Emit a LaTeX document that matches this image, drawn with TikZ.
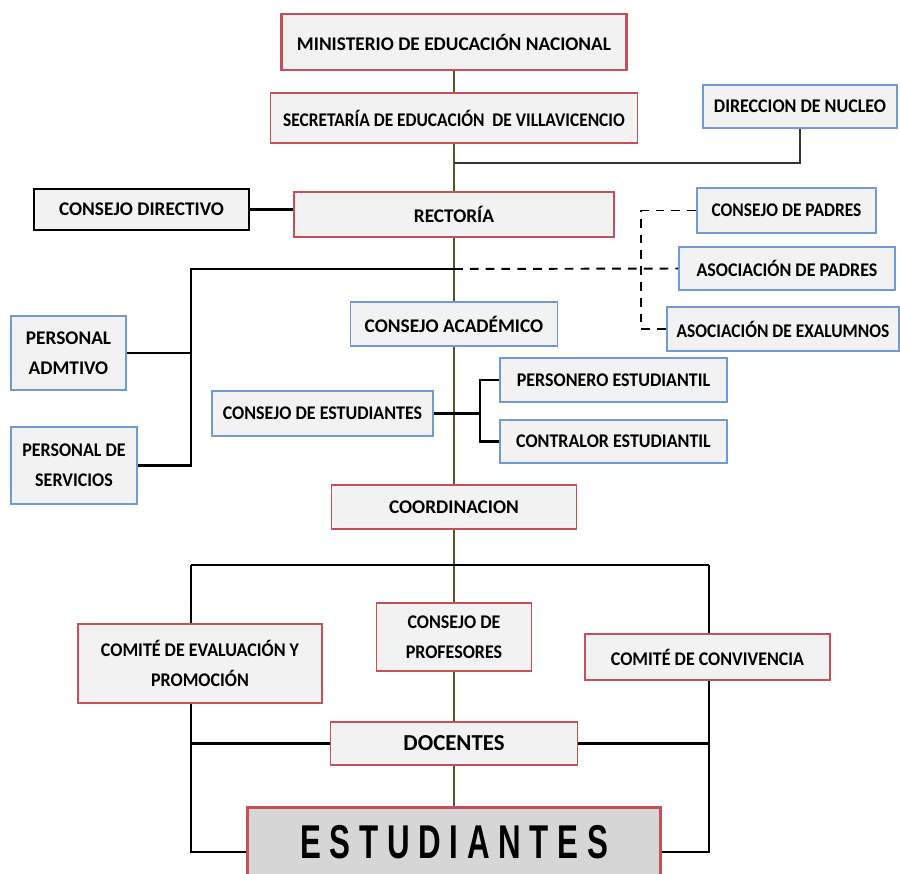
\documentclass[tikz,border=0pt]{standalone}
\usepackage{fontspec}
\setmainfont{Carlito}
\newfontfamily\condfont[FakeStretch=0.93]{Carlito}
\newfontfamily\narrowfont[FakeStretch=0.9]{Carlito}
\newfontfamily\estfont[FakeStretch=0.66]{Liberation Sans}
\usetikzlibrary{backgrounds}
\definecolor{boxred}{HTML}{C5505A}
\definecolor{boxblue}{HTML}{6F9AD2}
\definecolor{boxfill}{HTML}{F2F2F2}
\definecolor{estfill}{HTML}{D6D6D6}
\definecolor{trunkc}{HTML}{55552A}
\tikzset{
  box/.style={draw, fill=boxfill, line width=1.1pt, inner sep=0pt, align=center,
    font=\fontsize{11}{17}\selectfont\bfseries},
  redbox/.style={box, draw=boxred},
  bluebox/.style={box, draw=boxblue},
  blackbox/.style={box, draw=black, line width=1.6pt},
  cond/.style={font=\condfont\fontsize{11}{17}\selectfont\bfseries},
  narrow/.style={font=\narrowfont\fontsize{11}{17}\selectfont\bfseries},
  conn/.style={draw=black, line width=1.6pt},
  trunk/.style={draw=trunkc, line width=1.1pt},
  dashconn/.style={draw=black, line width=1.1pt, dash pattern=on 5pt off 4pt}
}
\begin{document}
\begin{tikzpicture}[x=0.02cm, y=-0.02cm]
\useasboundingbox (0,0) rectangle (900,873);
% main column
\node[redbox, line width=1.7pt, minimum width=345*0.02cm, minimum height=56*0.02cm] (min) at (454,42) {MINISTERIO DE EDUCACIÓN NACIONAL};
\node[redbox, narrow, minimum width=367*0.02cm, minimum height=50*0.02cm] (sec) at (454,118) {SECRETARÍA DE EDUCACIÓN \ DE VILLAVICENCIO};
\node[redbox, minimum width=320*0.02cm, minimum height=45*0.02cm] (rect) at (454,214.5) {RECTORÍA};
\node[bluebox, minimum width=207*0.02cm, minimum height=44*0.02cm] (acad) at (454,324) {CONSEJO ACADÉMICO};
\node[redbox, minimum width=245*0.02cm, minimum height=44*0.02cm] (coord) at (454,507) {COORDINACION};
\node[redbox, cond, minimum width=155*0.02cm, minimum height=68*0.02cm] (prof) at (454,637) {CONSEJO DE\\PROFESORES};
\node[redbox, minimum width=247*0.02cm, minimum height=43*0.02cm, font=\fontsize{13}{17}\selectfont\bfseries] (doc) at (454,743.5) {DOCENTES};
\node[redbox, fill=estfill, line width=1.7pt, minimum width=413*0.02cm, minimum height=70*0.02cm, font=\estfont\fontsize{27}{30}\selectfont\bfseries] (est) at (454,842) {E S T U D I A N T E S};
% side boxes
\node[bluebox, cond, minimum width=194*0.02cm, minimum height=43*0.02cm] (nuc) at (800,106.5) {DIRECCION DE NUCLEO};
\node[blackbox, minimum width=215*0.02cm, minimum height=41*0.02cm] (dir) at (141.5,209.5) {CONSEJO DIRECTIVO};
\node[bluebox, narrow, minimum width=179*0.02cm, minimum height=45*0.02cm] (cpad) at (786.5,210.5) {CONSEJO DE PADRES};
\node[bluebox, cond, minimum width=216*0.02cm, minimum height=43*0.02cm] (apad) at (787,268.5) {ASOCIACIÓN DE PADRES};
\node[bluebox, narrow, minimum width=232*0.02cm, minimum height=44*0.02cm] (aexa) at (783,329) {ASOCIACIÓN DE EXALUMNOS};
\node[bluebox, minimum width=115*0.02cm, minimum height=74*0.02cm] (padm) at (68.5,353) {PERSONAL\\ADMTIVO};
\node[bluebox, cond, minimum width=126*0.02cm, minimum height=77*0.02cm] (pser) at (74,465.5) {PERSONAL DE\\SERVICIOS};
\node[bluebox, cond, minimum width=221*0.02cm, minimum height=45*0.02cm] (cest) at (322.5,413.5) {CONSEJO DE ESTUDIANTES};
\node[bluebox, cond, minimum width=227*0.02cm, minimum height=44*0.02cm] (pers) at (613.5,380) {PERSONERO ESTUDIANTIL};
\node[bluebox, cond, minimum width=227*0.02cm, minimum height=43*0.02cm] (cont) at (613.5,441.5) {CONTRALOR ESTUDIANTIL};
\node[redbox, cond, minimum width=244*0.02cm, minimum height=79*0.02cm] (ceval) at (200,663.5) {COMITÉ DE EVALUACIÓN Y\\PROMOCIÓN};
\node[redbox, cond, minimum width=245*0.02cm, minimum height=46*0.02cm] (cconv) at (707.5,657) {COMITÉ DE CONVIVENCIA};
% junctions
\coordinate (jnuc) at (454,163);
\coordinate (jside) at (454,269);
\coordinate (kl) at (191,269);
\coordinate (kd) at (641,269);
\coordinate (ks) at (480,413.5);
\coordinate (fl) at (191,565);
\coordinate (fr) at (709,565);
\coordinate (eb) at (454,852);
\begin{scope}[on background layer]
\draw[trunk] (min.south) -- (sec.north);
\draw[trunk] (sec.south) -- (rect.north);
\draw[trunk] (rect.south) -- (acad.north);
\draw[trunk] (acad.south) -- (coord.north);
\draw[trunk] (coord.south) -- (prof.north);
\draw[trunk] (prof.south) -- (doc.north);
\draw[trunk] (doc.south) -- (est.north);
\draw[draw=black!80, line width=1.1pt] (jnuc) -| (nuc.south);
\draw[conn] (dir.east) -- (dir.east -| rect.west);
\draw[conn] (jside) -- (kl) |- (pser.east);
\draw[conn] (padm.east) -- (padm.east -| kl);
\draw[dashconn] (jside) -- (apad.west);
\draw[dashconn] (cpad.west) -| (kd) |- (aexa.west);
\draw[conn] (cest.east) -- (ks);
\draw[conn] (pers.west) -| (ks) |- (cont.west);
\draw[conn] (fl) -- (fr);
\draw[conn] (fl) |- (eb -| est.west);
\draw[conn] (fr) |- (eb -| est.east);
\draw[conn] (doc.west) -- (doc.west -| fl);
\draw[conn] (doc.east) -- (doc.east -| fr);
\end{scope}
\end{tikzpicture}
\end{document}
